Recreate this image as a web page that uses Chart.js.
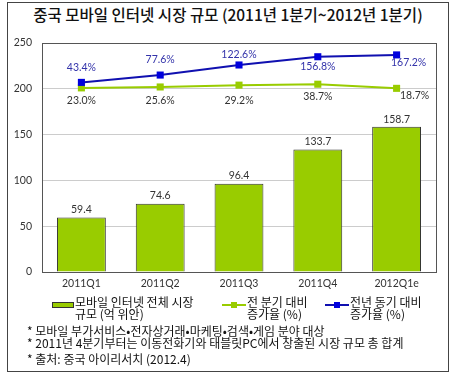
<!DOCTYPE html>
<html>
<head>
<meta charset="utf-8">
<script src="https://cdn.jsdelivr.net/npm/chart.js@4"></script>
<style>
  body { margin: 0; background: #fff; }
  #wrap { position: relative; width: 456px; height: 378px; overflow: hidden; }
  #frame { position: absolute; left: 7px; top: 2px; width: 440px; height: 368px; border: 1px solid #444; }
  #title { position: absolute; left: 0; top: 3px; width: 456px; text-align: center; font: 500 15.5px "Noto Sans CJK KR", sans-serif; color: #111; }
  canvas { position: absolute; left: 0; top: 0; }
  .leg { position: absolute; font: 12px/12px "Noto Sans CJK KR", sans-serif; color: #111; white-space: nowrap; }
  .sw { position: absolute; }
  .note { position: absolute; left: 27px; font: 12px/12px "Noto Sans CJK KR", sans-serif; color: #111; white-space: nowrap; }
</style>
</head>
<body>
<div id="wrap">
  <div id="frame"></div>
  <div id="title">중국 모바일 인터넷 시장 규모 (2011년 1분기~2012년 1분기)</div>
  <canvas id="chart" width="456" height="378"></canvas>

  <div class="sw" style="left:52px;top:302px;width:20px;height:4px;background:#99cc00;border:1px solid #333;"></div>
  <div class="leg" style="left:75px;top:296px;">모바일 인터넷 전체 시장<br>규모 (억 위안)</div>

  <div class="sw" style="left:222px;top:304px;width:24px;height:2px;background:#99cc00;"></div>
  <div class="sw" style="left:231px;top:302px;width:6px;height:6px;background:#99cc00;"></div>
  <div class="leg" style="left:247px;top:296px;">전 분기 대비<br>증가율 (%)</div>

  <div class="sw" style="left:325px;top:304px;width:24px;height:2px;background:#1010b0;"></div>
  <div class="sw" style="left:334px;top:302px;width:6px;height:6px;background:#0000dd;"></div>
  <div class="leg" style="left:350px;top:296px;">전년 동기 대비<br>증가율 (%)</div>

  <div class="note" style="top:325px;">* 모바일 부가서비스•전자상거래•마케팅•검색•게임 분야 대상</div>
  <div class="note" style="top:337px;">* 2011년 4분기부터는 이동전화기와 태블릿PC에서 창출된 시장 규모 총 합계</div>
  <div class="note" style="top:353px;">* 출처: 중국 아이리서치 (2012.4)</div>
</div>
<script>
// categories and values
const quarters = ['2011Q1', '2011Q2', '2011Q3', '2011Q4', '2012Q1e'];
const marketSize = [59.4, 74.6, 96.4, 133.7, 158.7];
// line series sit on the same axis, near the top of the plot
const qoqLevel = [201, 202, 204, 205, 200.5];
const yoyLevel = [207, 215, 226, 235, 237];
const qoqLabels = ['23.0%', '25.6%', '29.2%', '38.7%', '18.7%'];
const yoyLabels = ['43.4%', '77.6%', '122.6%', '156.8%', '167.2%'];
const yTicks = [0, 50, 100, 150, 200, 250];

const tickFont = { family: 'Lato, "DejaVu Sans", sans-serif', size: 10.5 };

// value labels beside each mark
const valueLabels = {
    id: 'valueLabels',
    afterDatasetsDraw(chart, args, opts) {
        const ctx = chart.ctx;
        ctx.save();
        ctx.font = '10.5px Lato, "DejaVu Sans", sans-serif';
        ctx.textAlign = 'center';
        ctx.textBaseline = 'middle';
        opts.sets.forEach(s => {
            const meta = chart.getDatasetMeta(s.index);
            ctx.fillStyle = s.color;
            meta.data.forEach((el, i) => {
                const off = s.offsets[i];
                ctx.fillText(s.text[i], el.x + off[0], el.y + off[1]);
            });
        });
        ctx.restore();
    }
};

const plotBorder = {
    id: 'plotBorder',
    afterDraw(chart) {
        const a = chart.chartArea, ctx = chart.ctx;
        ctx.save();
        ctx.strokeStyle = '#555';
        ctx.lineWidth = 1;
        ctx.strokeRect(Math.round(a.left) + 0.5, Math.round(a.top) + 0.5, Math.round(a.right - a.left), Math.round(a.bottom - a.top));
        ctx.restore();
    }
};

new Chart(document.getElementById('chart'), {
    data: {
        labels: quarters,
        datasets: [
            { type: 'line', label: '전년 동기 대비 증가율 (%)', data: yoyLevel, borderColor: '#1010b0', backgroundColor: '#0000dd', borderWidth: 2, pointStyle: 'rect', pointRadius: 5, pointBorderWidth: 0, tension: 0, order: 1 },
            { type: 'line', label: '전 분기 대비 증가율 (%)', data: qoqLevel, borderColor: '#99cc00', backgroundColor: '#99cc00', borderWidth: 2, pointStyle: 'rect', pointRadius: 5, pointBorderWidth: 0, tension: 0, order: 2 },
            { type: 'bar', label: '모바일 인터넷 전체 시장 규모 (억 위안)', data: marketSize, backgroundColor: '#99cc00', borderColor: '#333', borderWidth: 1, barPercentage: 0.62, categoryPercentage: 1, order: 3 }
        ]
    },
    options: {
        responsive: false,
        animation: false,
        layout: { padding: { left: 0, right: 20, top: 43, bottom: 86 } },
        plugins: {
            legend: { display: false },
            tooltip: { enabled: false },
            valueLabels: {
                sets: [
                    { index: 2, text: marketSize.map(v => v.toFixed(1)), color: '#333', offsets: [[0,-8],[0,-8],[0,-8],[0,-8],[0,-7]] },
                    { index: 1, text: qoqLabels, color: '#333', offsets: [[0,13],[0,14],[0,15],[0,12],[18,7]] },
                    { index: 0, text: yoyLabels, color: '#3333aa', offsets: [[0,-15],[0,-15],[0,-10],[0,10],[12,8]] }
                ]
            }
        },
        scales: {
            x: {
                grid: { display: false, drawTicks: false },
                border: { color: '#555' },
                ticks: { font: tickFont, color: '#333', padding: 5 },
                afterFit(s) { s.height = 20; }
            },
            y: {
                min: 0, max: 250,
                afterBuildTicks(s) { s.ticks = yTicks.map(v => ({ value: v })); },
                grid: { color: '#cccccc', drawTicks: false },
                border: { color: '#555' },
                ticks: { font: tickFont, color: '#333', padding: 10 },
                afterFit(s) { s.width = 42; }
            }
        }
    },
    plugins: [valueLabels, plotBorder]
});
</script>
</body>
</html>
